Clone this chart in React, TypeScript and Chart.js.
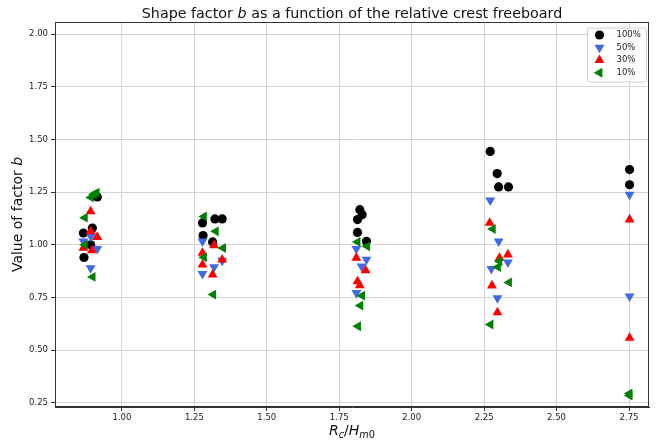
import React, { useEffect, useRef } from "react";
import { Chart, registerables } from "chart.js";

Chart.register(...registerables);

// ---- data ----
const xTicks = [1.0, 1.25, 1.5, 1.75, 2.0, 2.25, 2.5, 2.75];
const yTicks = [0.25, 0.5, 0.75, 1.0, 1.25, 1.5, 1.75, 2.0];
const xRange = [0.769, 2.819];
const yRange = [0.231, 2.057];

const seriesNames = ["100%", "50%", "30%", "10%"];

const pts100: [number, number][] = [
  [0.915, 1.227], [0.898, 1.08], [0.867, 1.056], [0.892, 1.0], [0.869, 0.94],
  [1.278, 1.104], [1.321, 1.123], [1.346, 1.123], [1.28, 1.044], [1.313, 1.014],
  [1.821, 1.167], [1.829, 1.143], [1.813, 1.12], [1.813, 1.059], [1.844, 1.017],
  [2.271, 1.443], [2.295, 1.338], [2.3, 1.275], [2.334, 1.275],
  [2.752, 1.357], [2.752, 1.285],
];

const pts50: [number, number][] = [
  [0.867, 1.017], [0.915, 0.981], [0.892, 0.89], [0.893, 1.04],
  [1.278, 1.017], [1.318, 0.895], [1.278, 0.863], [1.346, 0.925],
  [1.809, 0.981], [1.844, 0.93], [1.827, 0.898], [1.809, 0.772],
  [2.271, 1.211], [2.3, 1.017], [2.332, 0.917], [2.275, 0.886], [2.296, 0.748],
  [2.752, 1.238], [2.752, 0.756],
];

const pts30: [number, number][] = [
  [0.892, 1.159], [0.892, 1.064], [0.915, 1.037], [0.867, 0.985], [0.896, 0.974],
  [1.318, 0.998], [1.278, 0.962], [1.346, 0.93], [1.278, 0.906], [1.313, 0.859],
  [1.809, 0.938], [1.841, 0.879], [1.813, 0.827], [1.821, 0.808],
  [2.269, 1.104], [2.332, 0.954], [2.303, 0.938], [2.277, 0.807], [2.296, 0.68],
  [2.752, 1.12], [2.752, 0.559],
];

const pts10: [number, number][] = [
  [0.913, 1.248], [0.903, 1.24], [0.893, 1.225], [0.872, 1.129], [0.872, 1.0], [0.899, 0.848],
  [1.283, 1.135], [1.324, 1.064], [1.349, 0.985], [1.283, 0.941], [1.315, 0.764],
  [1.813, 1.014], [1.846, 0.993], [1.829, 0.759], [1.823, 0.712], [1.815, 0.614],
  [2.28, 1.075], [2.303, 0.922], [2.298, 0.895], [2.336, 0.822], [2.272, 0.622],
  [2.752, 0.295], [2.752, 0.285],
];

const colors = ["#000000", "#4169e1", "#ff0000", "#008000"];
const styles = ["circle", "triangle", "triangle", "triangle"];
const rotations = [0, 180, 0, 270];
const radii = [4.6, 5.7, 5.7, 5.7];

const FONT = "'DejaVu Sans', sans-serif";

type Part = { t: string; italic?: boolean; size?: number; dy?: number };

function drawParts(ctx: CanvasRenderingContext2D, parts: Part[], cx: number, cy: number, base: number) {
  let total = 0;
  const widths = parts.map((p) => {
    ctx.font = `${p.italic ? "italic " : ""}${p.size ?? base}px ${FONT}`;
    const w = ctx.measureText(p.t).width;
    total += w;
    return w;
  });
  let x = cx - total / 2;
  ctx.textAlign = "left";
  ctx.textBaseline = "alphabetic";
  parts.forEach((p, i) => {
    ctx.font = `${p.italic ? "italic " : ""}${p.size ?? base}px ${FONT}`;
    ctx.fillText(p.t, x, cy + (p.dy ?? 0));
    x += widths[i];
  });
}

function drawMarker(ctx: CanvasRenderingContext2D, style: string, rot: number, r: number, x: number, y: number, color: string) {
  ctx.fillStyle = color;
  ctx.beginPath();
  if (style === "circle") {
    ctx.arc(x, y, r, 0, Math.PI * 2);
  } else {
    let rad = (rot * Math.PI) / 180;
    ctx.moveTo(x + Math.sin(rad) * r, y - Math.cos(rad) * r);
    rad += (2 * Math.PI) / 3;
    ctx.lineTo(x + Math.sin(rad) * r, y - Math.cos(rad) * r);
    rad += (2 * Math.PI) / 3;
    ctx.lineTo(x + Math.sin(rad) * r, y - Math.cos(rad) * r);
    ctx.closePath();
  }
  ctx.fill();
}

const decor = {
  id: "decor",
  afterDraw(chart: any) {
    const { ctx, chartArea } = chart;
    const { left, right, top, bottom } = chartArea;
    ctx.save();
    // frame
    ctx.strokeStyle = "#333";
    ctx.lineWidth = 1;
    ctx.strokeRect(left + 0.5, top + 0.5, right - left - 1, bottom - top - 1);
    ctx.fillStyle = "#111";
    // title
    drawParts(
      ctx,
      [{ t: "Shape factor " }, { t: "b", italic: true }, { t: " as a function of the relative crest freeboard" }],
      (left + right) / 2,
      17.5,
      14.3
    );
    // x label
    ctx.fillStyle = "#111";
    drawParts(
      ctx,
      [
        { t: "R", italic: true },
        { t: "c", italic: true, size: 9.8, dy: 2.8 },
        { t: "/" },
        { t: "H", italic: true },
        { t: "m", italic: true, size: 9.8, dy: 2.8 },
        { t: "0", size: 9.8, dy: 2.8 },
      ],
      (left + right) / 2,
      435,
      14
    );
    // y label
    ctx.save();
    ctx.translate(22, (top + bottom) / 2);
    ctx.rotate(-Math.PI / 2);
    ctx.fillStyle = "#111";
    drawParts(ctx, [{ t: "Value of factor " }, { t: "b", italic: true }], 0, 0, 14);
    ctx.restore();
    // legend
    const lx = 587, ly = 27.5, lw = 59, lh = 54;
    ctx.fillStyle = "rgba(255,255,255,0.85)";
    ctx.strokeStyle = "#d0d0d0";
    ctx.lineWidth = 1;
    ctx.beginPath();
    (ctx as any).roundRect(lx + 0.5, ly + 0.5, lw, lh, 2);
    ctx.fill();
    ctx.stroke();
    seriesNames.forEach((name, i) => {
      const yy = 35 + i * 12.6;
      drawMarker(ctx, styles[i], rotations[i], radii[i], 599.5, yy, colors[i]);
      ctx.fillStyle = "#222";
      ctx.font = `8.5px ${FONT}`;
      ctx.textAlign = "left";
      ctx.textBaseline = "middle";
      ctx.fillText(name, 616.5, yy);
    });
    ctx.restore();
  },
};

export default function App() {
  const ref = useRef<HTMLCanvasElement | null>(null);
  useEffect(() => {
    if (!ref.current) return;
    const all = [pts100, pts50, pts30, pts10];
    const chart = new Chart(ref.current, {
      type: "scatter",
      data: {
        datasets: all.map((pts, i) => ({
          label: seriesNames[i],
          data: pts.map(([x, y]) => ({ x, y })),
          backgroundColor: colors[i],
          borderColor: colors[i],
          borderWidth: 0,
          pointStyle: styles[i] as any,
          rotation: rotations[i],
          pointRadius: radii[i],
          pointHoverRadius: radii[i],
          order: 4 - i,
        })),
      },
      options: {
        responsive: false,
        animation: false,
        layout: { padding: { top: 22, right: 10, left: 0, bottom: 0 } },
        plugins: { legend: { display: false }, title: { display: false }, tooltip: { enabled: false } },
        scales: {
          x: {
            type: "linear",
            min: xRange[0],
            max: xRange[1],
            afterBuildTicks: (s: any) => {
              s.ticks = xTicks.map((v) => ({ value: v }));
            },
            afterFit: (s: any) => {
              s.height = 34;
            },
            ticks: {
              callback: (v: any) => Number(v).toFixed(2),
              font: { family: FONT, size: 8.5 },
              color: "#222",
              padding: 2,
              maxRotation: 0,
              autoSkip: false,
            },
            grid: { color: "#d4d4d4", lineWidth: 1, tickLength: 4, tickColor: "#333", drawTicks: true },
            border: { display: true, color: "#333" },
          },
          y: {
            type: "linear",
            min: yRange[0],
            max: yRange[1],
            afterBuildTicks: (s: any) => {
              s.ticks = yTicks.map((v) => ({ value: v }));
            },
            afterFit: (s: any) => {
              s.width = 55;
            },
            ticks: {
              callback: (v: any) => Number(v).toFixed(2),
              font: { family: FONT, size: 8.5 },
              color: "#222",
              padding: 3,
              autoSkip: false,
            },
            grid: { color: "#d4d4d4", lineWidth: 1, tickLength: 4, tickColor: "#333", drawTicks: true },
            border: { display: true, color: "#333" },
          },
        },
      },
      plugins: [decor],
    });
    return () => chart.destroy();
  }, []);
  return (
    <div style={{ position: "absolute", left: 0, top: 0, width: 659, height: 441, background: "#fff" }}>
      <canvas ref={ref} width={659} height={441} style={{ display: "block" }} />
    </div>
  );
}
